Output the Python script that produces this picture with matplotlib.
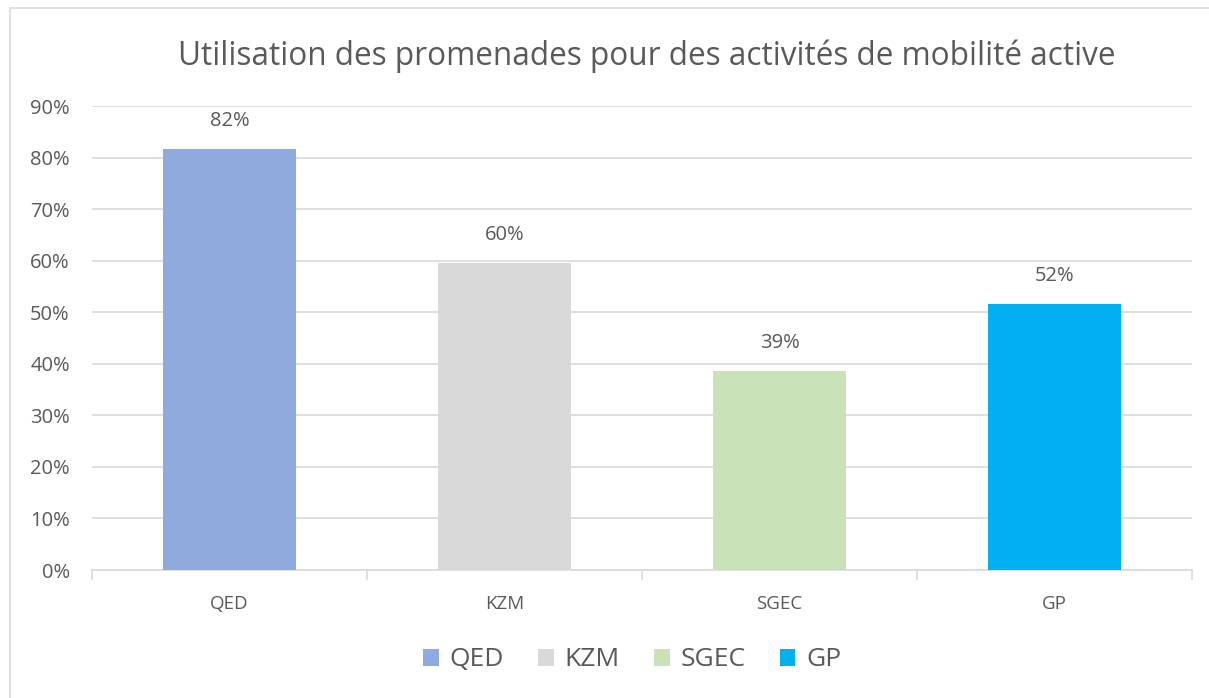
import matplotlib.pyplot as plt
from matplotlib.patches import Rectangle, Patch
from matplotlib.ticker import MultipleLocator, FuncFormatter

categories = ["QED", "KZM", "SGEC", "GP"]
values = [0.816, 0.596, 0.386, 0.516]
colors = ["#8FAADC", "#D9D9D9", "#C9E2B8", "#00B0F0"]
title = "Utilisation des promenades pour des activités de mobilité active"

text_col = "#595959"
grid_col = "#D9D9D9"

plt.rcParams["font.family"] = ["Open Sans", "DejaVu Sans"]

fig = plt.figure(figsize=(12.09, 6.98), dpi=100)
fig.patches.append(Rectangle((10 / 1209, -0.01), 1.02, 1 - 8 / 698 + 0.01,
                             transform=fig.transFigure, fill=False,
                             edgecolor="#D9D9D9", linewidth=1.2))

ax = fig.add_axes([92 / 1209, 1 - 570 / 698, 1100 / 1209, (570 - 106) / 698])
x = range(len(categories))
bars = ax.bar(x, values, width=0.485, color=colors, zorder=3)

ax.set_ylim(0, 0.9)
ax.set_xlim(-0.5, len(categories) - 0.5)
ax.yaxis.set_major_locator(MultipleLocator(0.1))
ax.yaxis.set_major_formatter(FuncFormatter(lambda v, p: f"{round(v * 100):.0f}%"))
ax.grid(axis="y", color=grid_col, linewidth=1.2, zorder=0)

for s in ["top", "right", "left"]:
    ax.spines[s].set_visible(False)
ax.spines["bottom"].set_color(grid_col)
ax.spines["bottom"].set_linewidth(1.2)

ax.set_xticks(list(x))
ax.set_xticklabels(categories)
ax.set_xticks([i - 0.5 for i in range(len(categories) + 1)], minor=True)
ax.tick_params(axis="x", which="major", length=0, pad=18, labelsize=13.5, labelcolor=text_col)
ax.tick_params(axis="x", which="minor", length=7, width=1.2, color=grid_col)
ax.tick_params(axis="y", length=0, pad=16, labelsize=14.5, labelcolor=text_col)

for b, v in zip(bars, values):
    ax.annotate(f"{round(v * 100)}%", (b.get_x() + b.get_width() / 2, v),
                xytext=(0, 13), textcoords="offset points", ha="center", va="bottom",
                fontsize=14.5, color=text_col)

fig.text(647 / 1209, 1 - 56 / 698, title, ha="center", va="center",
         fontsize=22.7, color=text_col)

handles = [Patch(facecolor=c, edgecolor="none") for c in colors]
fig.legend(handles, categories, loc="center", bbox_to_anchor=(632 / 1209, 1 - 660 / 698),
           ncol=4, frameon=False, fontsize=19, labelcolor=text_col,
           handlelength=0.6, handleheight=0.6, handletextpad=0.4, columnspacing=1.3)

fig.savefig("out.png", dpi=100)
